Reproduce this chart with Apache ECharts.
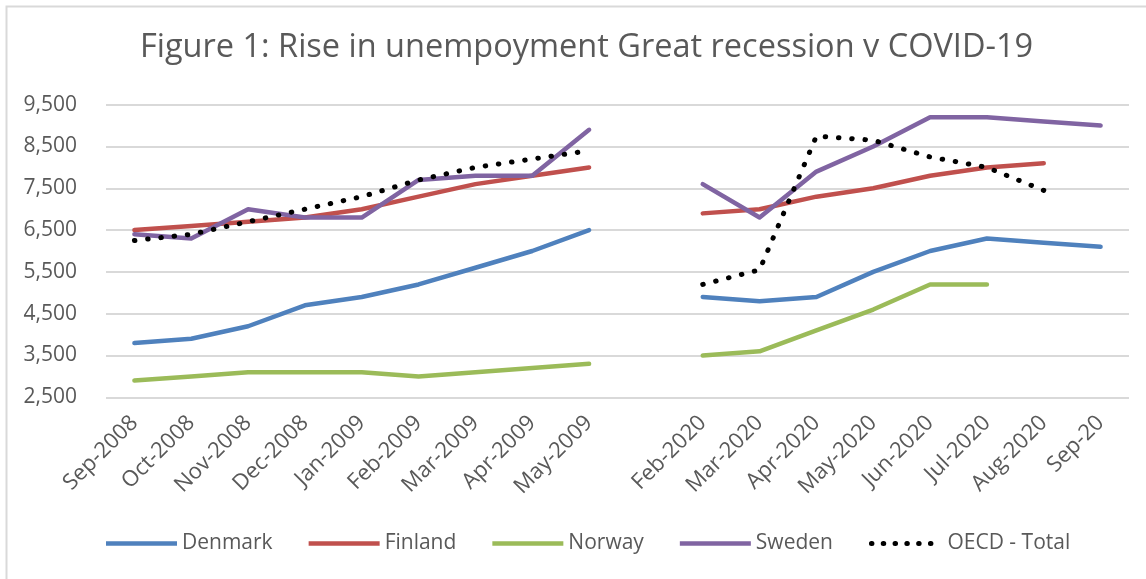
<!DOCTYPE html>
<html>
<head>
<meta charset="utf-8">
<script src="https://cdn.jsdelivr.net/npm/echarts@6/dist/echarts.min.js"></script>
<style>
html,body{margin:0;padding:0;background:#fff;}
#chart{width:1146px;height:579px;}
</style>
</head>
<body>
<div id="chart"></div>
<script>
const categories = ['Sep-2008','Oct-2008','Nov-2008','Dec-2008','Jan-2009','Feb-2009','Mar-2009','Apr-2009','May-2009','',
  'Feb-2020','Mar-2020','Apr-2020','May-2020','Jun-2020','Jul-2020','Aug-2020','Sep-20'];
const denmark = [3800,3900,4200,4700,4900,5200,5600,6000,6500,null,4900,4800,4900,5500,6000,6300,6200,6100];
const finland = [6500,6600,6700,6800,7000,7300,7600,7800,8000,null,6900,7000,7300,7500,7800,8000,8100,null];
const norway  = [2900,3000,3100,3100,3100,3000,3100,3200,3300,null,3500,3600,4100,4600,5200,5200,null,null];
const sweden  = [6400,6300,7000,6800,6800,7700,7800,7800,8900,null,7600,6800,7900,8500,9200,9200,9100,9000];
const oecd    = [6250,6400,6700,7000,7300,7700,8000,8200,8400,null,5200,5550,8750,8650,8250,8000,7450,null];
const yTicks = [2500,3500,4500,5500,6500,7500,8500,9500];

const FONT = 'Open Sans';
const TXT = '#595959';
const chart = echarts.init(document.getElementById('chart'), null, {renderer:'canvas'});

function lineSeries(name, data, color, dotted){
  return {
    name, type:'line', data, showSymbol:false, symbol:'none', connectNulls:false,
    lineStyle: dotted
      ? {color:color, width:5, type:[0.5,12.8], cap:'round', join:'round'}
      : {color:color, width:4.5, cap:'round', join:'round'},
    itemStyle:{color:color},
    emphasis:{disabled:true},
    animation:false
  };
}

chart.setOption({
  animation:false,
  backgroundColor:'#fff',
  graphic:[{
    type:'polyline',
    shape:{points:[[6.5,579],[6.5,6.5],[1146,6.5]]},
    style:{stroke:'#d9d9d9',lineWidth:2,fill:null},
    silent:true
  }],
  title:{
    text:'Figure 1: Rise in unempoyment Great recession v COVID-19',
    left:135, top:26,
    textStyle:{fontFamily:FONT,fontSize:32.5,fontWeight:'normal',color:TXT}
  },
  grid:{left:106,right:17,top:104.7,bottom:181.7,containLabel:false},
  legend:{
    bottom:20, left:101,
    itemWidth:71, itemHeight:4.5, itemGap:36,
    textStyle:{fontFamily:FONT,fontSize:21,color:TXT},
    data:[
      {name:'Denmark',icon:'rect'},
      {name:'Finland',icon:'rect'},
      {name:'Norway',icon:'rect'},
      {name:'Sweden',icon:'rect'},
      {name:'OECD - Total',
       lineStyle:{width:5,type:[0.5,11.3,0.5,11.3,0.5,11.3,0.5,11.3,0.5,11.3,0.5,40],cap:'round',color:'#000'},
       itemStyle:{opacity:0}}
    ]
  },
  xAxis:{
    type:'category', data:categories, boundaryGap:true,
    axisLine:{show:false}, axisTick:{show:false},
    axisLabel:{rotate:45,interval:0,fontFamily:FONT,fontSize:22,color:TXT,margin:22}
  },
  yAxis:{
    type:'value', min:2500, max:9500, interval:1000,
    axisLine:{show:false}, axisTick:{show:false},
    axisLabel:{fontFamily:FONT,fontSize:21,color:TXT,margin:29,
      formatter:v=>v.toLocaleString('en-US')},
    splitLine:{lineStyle:{color:'#d9d9d9',width:2}}
  },
  series:[
    lineSeries('Denmark',denmark,'#4F81BD'),
    lineSeries('Finland',finland,'#C0504D'),
    lineSeries('Norway',norway,'#9BBB59'),
    lineSeries('Sweden',sweden,'#8064A2'),
    lineSeries('OECD - Total',oecd,'#000000',true)
  ]
});
</script>
</body>
</html>
